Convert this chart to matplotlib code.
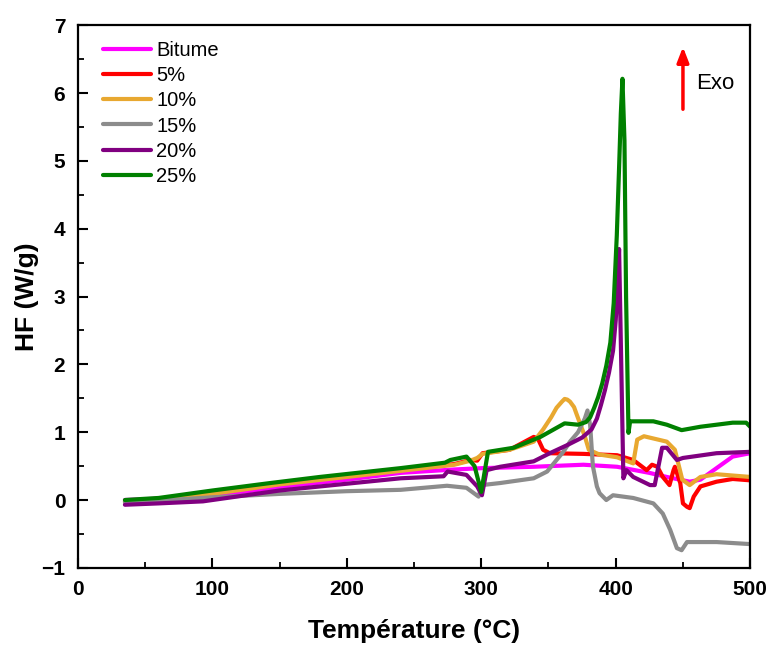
import matplotlib
matplotlib.use("Agg")
import matplotlib.pyplot as plt
from matplotlib.ticker import MultipleLocator

plt.rcParams['font.family'] = ['Liberation Sans', 'DejaVu Sans']

labels = ["Bitume", "5%", "10%", "15%", "20%", "25%"]
colors = ["#ff00ff", "#ff0000", "#e8a830", "#8c8c8c", "#800080", "#008000"]

T_bitume = [35, 60, 100, 150, 200, 240, 280, 301, 339, 376, 401, 425, 438, 455, 463, 475, 487, 500]
HF_bitume = [0.0, 0.02, 0.06, 0.19, 0.30, 0.40, 0.45, 0.47, 0.49, 0.52, 0.49, 0.40, 0.34, 0.27, 0.30, 0.47, 0.64, 0.69]

T_5 = [35, 60, 100, 150, 200, 240, 280, 292, 297, 301, 321, 339, 342, 346, 351, 376, 401, 413, 423, 427,
       431, 435, 440, 443, 444, 448, 450, 453, 455, 458, 463, 475, 487, 500]
HF_5 = [-0.02, 0.02, 0.10, 0.24, 0.35, 0.44, 0.53, 0.59, 0.58, 0.69, 0.74, 0.93, 0.91, 0.74, 0.69, 0.68, 0.66, 0.59, 0.44, 0.52,
        0.49, 0.34, 0.22, 0.44, 0.49, 0.25, -0.05, -0.10, -0.12, 0.05, 0.20, 0.27, 0.31, 0.29]

T_10 = [35, 60, 100, 150, 200, 240, 280, 292, 297, 301, 321, 339, 346, 352, 356, 360, 362, 364, 366, 369, 371, 374, 377, 380, 388,
        401, 413, 416, 421, 438, 444, 449.5, 455, 463, 475, 500]
HF_10 = [-0.03, 0.01, 0.09, 0.23, 0.34, 0.43, 0.52, 0.58, 0.62, 0.68, 0.74, 0.86, 1.04, 1.22, 1.36, 1.45, 1.49, 1.48, 1.45, 1.37, 1.26, 1.10, 0.94, 0.74, 0.67,
         0.63, 0.54, 0.89, 0.94, 0.86, 0.74, 0.30, 0.22, 0.34, 0.38, 0.34]

T_15 = [35, 60, 100, 150, 200, 240, 274.5, 289, 298, 300.5, 314, 339, 349, 356, 361, 366, 372, 377, 379, 381,
        383, 386, 388, 393, 398, 413, 428, 435, 440.5, 445.5, 449, 453, 475, 500]
HF_15 = [-0.03, -0.01, 0.04, 0.09, 0.13, 0.15, 0.21, 0.18, 0.05, 0.22, 0.25, 0.32, 0.42, 0.59, 0.71, 0.86, 1.0, 1.2, 1.32, 1.1,
         0.5, 0.2, 0.10, 0.0, 0.07, 0.03, -0.05, -0.20, -0.44, -0.71, -0.74, -0.62, -0.62, -0.65]

T_20 = [35, 60, 93, 150, 200, 240, 272, 275, 289, 297, 300.5, 304, 314, 339, 351, 364, 375, 382, 386, 389, 392,
        395, 398, 400, 401.5, 402.5, 405.7, 408, 413, 425.5, 429, 434.5, 438, 445.5, 450, 475, 500]
HF_20 = [-0.07, -0.05, -0.02, 0.14, 0.24, 0.32, 0.35, 0.42, 0.37, 0.20, 0.07, 0.44, 0.49, 0.57, 0.69, 0.81, 0.92, 1.04, 1.2, 1.4, 1.62,
         1.88, 2.2, 2.65, 3.2, 3.70, 0.32, 0.44, 0.34, 0.22, 0.22, 0.77, 0.77, 0.59, 0.62, 0.69, 0.71]

T_25 = [35, 60, 100, 143, 180, 240, 273, 277, 289, 295, 300, 305, 324, 344, 362, 372, 378, 381, 384, 387, 390, 393,
        396, 398.5, 400.8, 402.5, 403.8, 405, 406.5, 407.7, 409.5, 410.7, 428, 438, 449, 463, 487, 497, 500]
HF_25 = [0.0, 0.03, 0.14, 0.25, 0.34, 0.47, 0.55, 0.59, 0.64, 0.50, 0.12, 0.71, 0.77, 0.93, 1.13, 1.11, 1.15, 1.22, 1.36, 1.52, 1.72, 1.98,
         2.32, 2.9, 3.90, 4.9, 5.7, 6.21, 5.3, 3.0, 0.99, 1.16, 1.16, 1.11, 1.03, 1.08, 1.14, 1.14, 1.08]

series = [(T_bitume, HF_bitume), (T_5, HF_5), (T_10, HF_10), (T_15, HF_15), (T_20, HF_20), (T_25, HF_25)]

fig = plt.figure(figsize=(7.71, 6.46), dpi=100)
ax = fig.add_axes([0.101, 0.121, 0.872, 0.840])

for (T, HF), c, lab in zip(series, colors, labels):
    ax.plot(T, HF, color=c, lw=3.0, label=lab, solid_joinstyle='round', solid_capstyle='round')

ax.set_xlim(0, 500)
ax.set_ylim(-1, 7)
ax.xaxis.set_major_locator(MultipleLocator(100))
ax.xaxis.set_minor_locator(MultipleLocator(50))
ax.yaxis.set_major_locator(MultipleLocator(1))
ax.yaxis.set_minor_locator(MultipleLocator(0.5))
ax.tick_params(which='major', direction='in', length=7, width=1.5, labelsize=15, pad=9)
ax.tick_params(which='minor', direction='in', length=4, width=1.3)
for lbl in ax.get_xticklabels() + ax.get_yticklabels():
    lbl.set_fontweight('bold')
for s in ax.spines.values():
    s.set_linewidth(1.6)

ax.set_xlabel("Température (°C)", fontsize=19, fontweight='bold', labelpad=14)
ax.set_ylabel("HF (W/g)", fontsize=19, fontweight='bold')
ax.yaxis.set_label_coords(-0.058, 0.5)

ax.legend(loc='upper left', frameon=False, fontsize=14.5, handlelength=2.4, handletextpad=0.25,
          labelspacing=0.3, borderaxespad=0.0, bbox_to_anchor=(0.025, 0.985))

ax.annotate("", xy=(450, 6.72), xytext=(450, 5.72),
            arrowprops=dict(arrowstyle='-|>,head_width=0.35,head_length=0.9', color='red', lw=2.5))
ax.text(460, 6.14, "Exo", fontsize=16, va='center', ha='left')

fig.savefig("out.png", dpi=100)
